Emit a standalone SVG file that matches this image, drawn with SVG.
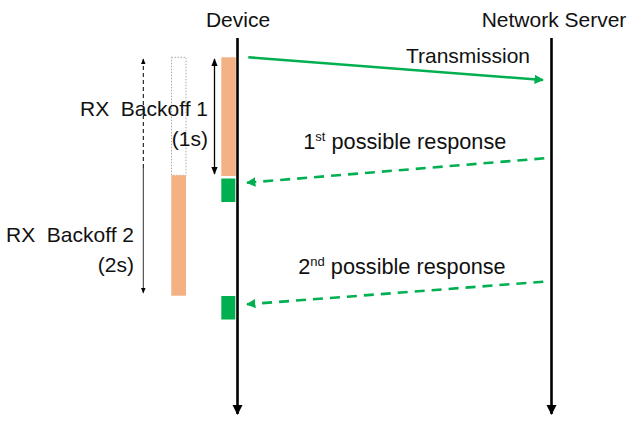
<svg xmlns="http://www.w3.org/2000/svg" width="630" height="426" viewBox="0 0 630 426">
<style>
text{font-family:"Liberation Sans",Arial,sans-serif;font-size:21px;fill:#111;white-space:pre}
.resp{font-size:21.7px}
.sup{font-size:13px}
.life{stroke:#000;stroke-width:2.6;fill:none}
.msg{stroke:#00B050;stroke-width:2.6;fill:none}
.dash{stroke-dasharray:10,7}
.orange{fill:#F4B183}
.green{fill:#00B050}
.dim{stroke:#000;stroke-width:1.3;fill:none}
</style>
<defs>
<marker id="ah" viewBox="0 0 10 10" refX="9" refY="5" markerWidth="4" markerHeight="4" orient="auto" markerUnits="strokeWidth"><path d="M0,0L10,5L0,10z" fill="#000"/></marker>
<marker id="gh" viewBox="0 0 10 10" refX="9" refY="5" markerWidth="3.6" markerHeight="3.6" orient="auto" markerUnits="strokeWidth"><path d="M0,0L10,5L0,10z" fill="#00B050"/></marker>
<marker id="dh" viewBox="0 0 10 10" refX="9" refY="5" markerWidth="6" markerHeight="6" orient="auto-start-reverse" markerUnits="strokeWidth"><path d="M0,1L10,5L0,9z" fill="#000"/></marker>
</defs>
<g id="device">
<text x="238" y="27" text-anchor="middle">Device</text>
<line class="life" x1="237.5" y1="38" x2="237.5" y2="414" marker-end="url(#ah)"/>
</g>
<g id="server">
<text x="554" y="27" text-anchor="middle">Network Server</text>
<line class="life" x1="551.5" y1="38" x2="551.5" y2="414" marker-end="url(#ah)"/>
</g>
<g id="rx-slot1"><rect class="green" x="221.3" y="178.5" width="14" height="23.5"/></g>
<g id="rx-slot2"><rect class="green" x="221.3" y="296" width="14" height="23.5"/></g>
<g id="rx2-window">
<rect x="171.5" y="57.3" width="14.5" height="118" fill="none" stroke="#aaa" stroke-width="1" stroke-dasharray="1.5,1.5"/>
<rect class="orange" x="171.3" y="175.3" width="14.7" height="120.4"/>
<line x1="143.3" y1="59" x2="143.3" y2="168" stroke="#000" stroke-width="1" stroke-dasharray="4,3" marker-start="url(#dh)"/>
<line x1="143.3" y1="168" x2="143.3" y2="293" stroke="#333" stroke-width="1" marker-end="url(#dh)"/>
<text x="134" y="242.3" text-anchor="end">RX  Backoff 2</text>
<text x="134" y="271.7" text-anchor="end">(2s)</text>
</g>
<g id="rx1-window">
<rect class="orange" x="221.3" y="57.3" width="14.5" height="118.7"/>
<line class="dim" x1="214.5" y1="59" x2="214.5" y2="174" marker-start="url(#dh)" marker-end="url(#dh)"/>
<text x="208" y="115.7" text-anchor="end">RX  Backoff 1</text>
<text x="208" y="145.7" text-anchor="end">(1s)</text>
</g>
<g id="connectors">
<line class="msg" x1="248.3" y1="57.3" x2="543" y2="80" marker-end="url(#gh)"/>
<line class="msg dash" x1="544.3" y1="158.3" x2="247" y2="182.7" marker-end="url(#gh)"/>
<line class="msg dash" x1="543.3" y1="281.7" x2="247" y2="304.3" marker-end="url(#gh)"/>
<text x="468" y="63.3" text-anchor="middle">Transmission</text>
<text class="resp" x="303.3" y="149.3">1<tspan class="sup" dy="-8">st</tspan><tspan dy="8"> possible response</tspan></text>
<text class="resp" x="298.3" y="274.3">2<tspan class="sup" dy="-8">nd</tspan><tspan dy="8"> possible response</tspan></text>
</g>
</svg>
